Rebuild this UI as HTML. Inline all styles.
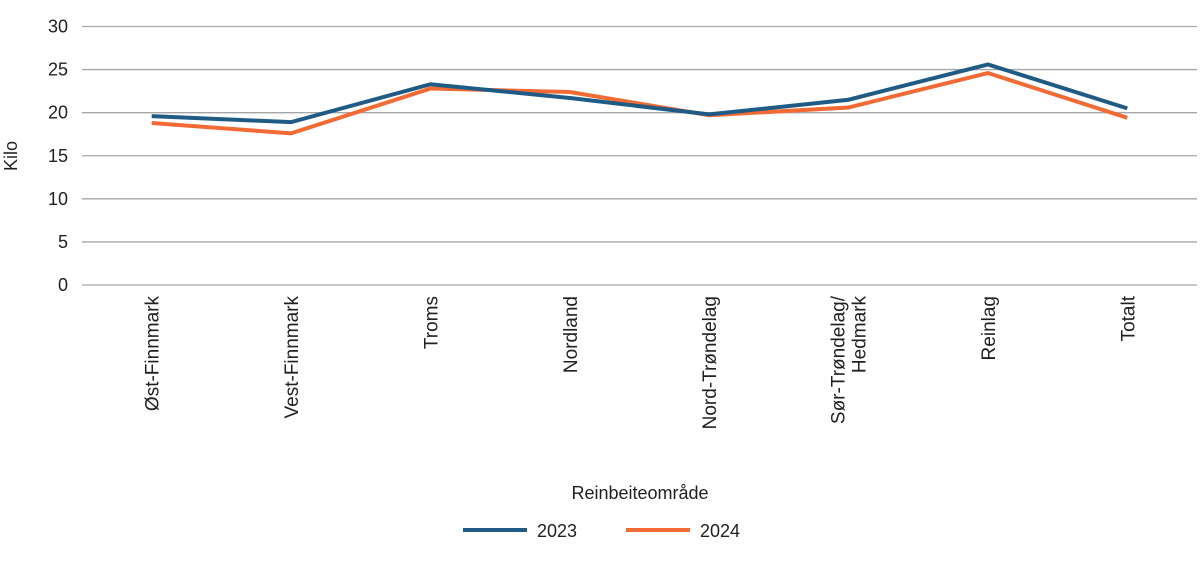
<!DOCTYPE html>
<html><head><meta charset="utf-8"><style>
body{margin:0;background:#fff;font-family:"Liberation Sans",sans-serif;}
svg text{fill:#231f20;font-family:"Liberation Sans",sans-serif;}
</style></head><body>
<svg width="1200" height="558" id="c">
<text x="17" y="156" font-size="18" text-anchor="middle" transform="rotate(-90 17 156)">Kilo</text>
<text x="640" y="499" font-size="18" text-anchor="middle">Reinbeiteområde</text>
<g>
<line x1="463" y1="530" x2="527" y2="530" stroke="#1f5b85" stroke-width="4"/>
<text x="537" y="537" font-size="18">2023</text>
<line x1="626" y1="530" x2="690" y2="530" stroke="#f26b35" stroke-width="4"/>
<text x="700" y="537" font-size="18">2024</text>
</g>
</svg>
<script>
const categories=["Øst-Finnmark","Vest-Finnmark","Troms","Nordland","Nord-Trøndelag","Sør-Trøndelag/|Hedmark","Reinlag","Totalt"];
const series2023=[19.6,18.9,23.3,21.7,19.8,21.5,25.6,20.5];
const series2024=[18.8,17.6,22.8,22.4,19.7,20.6,24.6,19.4];
const yTicks=[0,5,10,15,20,25,30];
const svg=document.getElementById('c');
const NS="http://www.w3.org/2000/svg";
const x0=82,x1=1197,y0=285,y1=26.5;
const band=(x1-x0)/categories.length;
const xs=i=>x0+band*(i+0.5);
const ys=v=>y0-(v/30)*(y0-y1);
function mk(t,a){const e=document.createElementNS(NS,t);for(const k in a)e.setAttribute(k,a[k]);svg.appendChild(e);return e;}
yTicks.forEach(v=>{
 const l=mk('line',{x1:x0,x2:x1,y1:ys(v),y2:ys(v),stroke:'#a6a6a6','stroke-width':1.3});
 
 
 const t=mk('text',{x:68,y:ys(v)+6,'font-size':18,'text-anchor':'end'});
 t.textContent=v;
 
 
});
categories.forEach((c,i)=>{
 const parts=c.split('|');
 const t=mk('text',{'font-size':19,'text-anchor':'end',transform:`translate(${xs(i)+7-(parts.length-1)*11},296) rotate(-90)`});
 parts.forEach((p,j)=>{const s=document.createElementNS(NS,'tspan');s.setAttribute('x',0);s.setAttribute('dy',j?21:0);s.textContent=p;t.appendChild(s);});
 
 
});
function line(data,col,name){
 const p=mk('polyline',{points:data.map((v,i)=>xs(i)+','+ys(v)).join(' '),fill:'none',stroke:col,'stroke-width':4,'stroke-linejoin':'miter'});
 
 
}
line(series2024,'#f26b35','series-2024-line');
line(series2023,'#1f5b85','series-2023-line');
</script>
</body></html>
